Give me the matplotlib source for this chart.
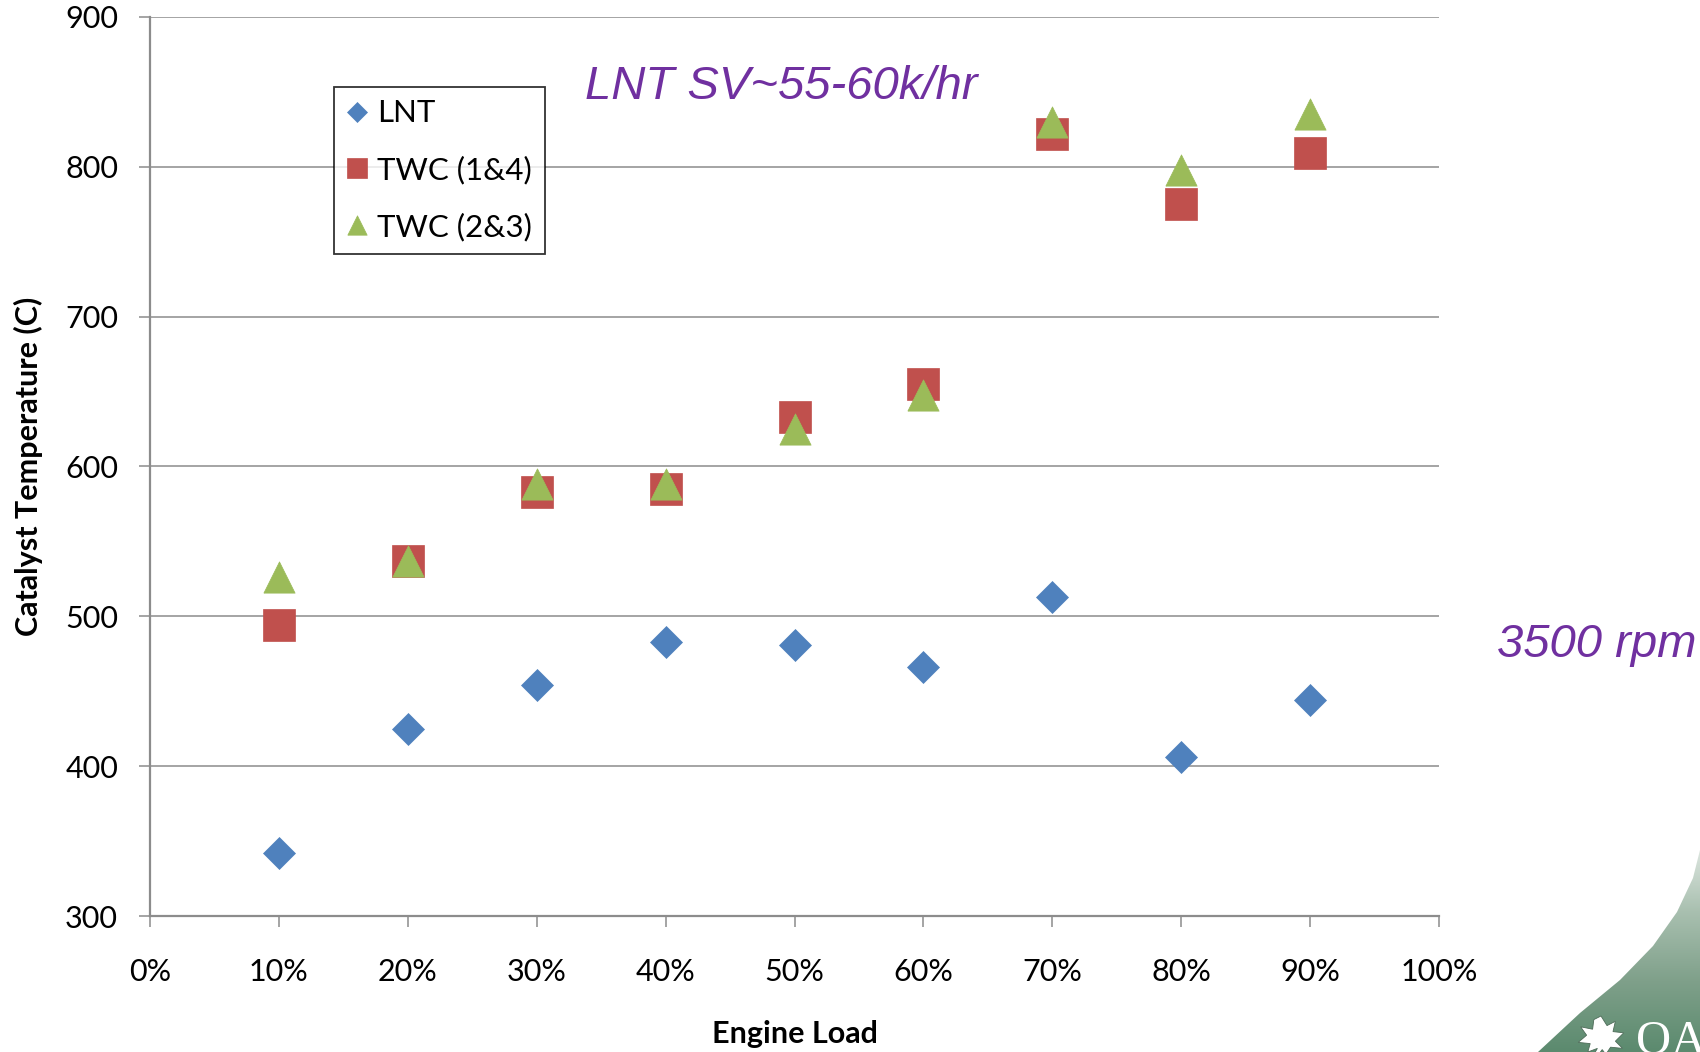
import matplotlib
matplotlib.use("Agg")
import matplotlib.pyplot as plt
import numpy as np
from matplotlib.colors import LinearSegmentedColormap
from matplotlib.patches import Polygon
from matplotlib.ticker import FuncFormatter, MultipleLocator

# data
engine_load = [0.1, 0.2, 0.3, 0.4, 0.5, 0.6, 0.7, 0.8, 0.9]
lnt = [342, 425, 454, 483, 481, 466, 513, 406, 444]
twc_14 = [494, 537, 583, 585, 633, 655, 822, 775, 809]
twc_23 = [526, 537, 588, 588, 625, 648, 830, 798, 835]

series_labels = ["LNT", "TWC (1&4)", "TWC (2&3)"]
y_ticks = [300, 400, 500, 600, 700, 800, 900]

BLUE = "#4F81BD"
RED = "#C0504D"
GREEN = "#9BBB59"
PURPLE = "#7030A0"
GRID = "#8C8C8C"

FONT = ["Lato", "DejaVu Sans"]
W, H = 1700, 1052

fig = plt.figure(figsize=(W / 100, H / 100), dpi=100)

# ---- logo corner (background, pixel coords) ----
bg = fig.add_axes([0, 0, 1, 1], zorder=-1)
bg.set_xlim(0, W)
bg.set_ylim(H, 0)
bg.axis("off")
cmap = LinearSegmentedColormap.from_list("lg", ["#e4ebe6", "#a9c0b0", "#7fa08a", "#5b8a6e"])
grad = np.linspace(0, 1, 256).reshape(-1, 1)
im = bg.imshow(grad, cmap=cmap, extent=(1500, W, H, 840), aspect="auto", zorder=0)
edge = [(W, 840), (W, 850), (1693, 878), (1677, 912), (1653, 946),
        (1620, 980), (1580, 1013), (1538, H), (W, H)]
clip = Polygon(edge, closed=True, transform=bg.transData, facecolor="none", edgecolor="none")
bg.add_patch(clip)
im.set_clip_path(clip)

# rough oak leaf
leaf = np.array([(0, -1), (0.25, -0.6), (0.6, -0.78), (0.5, -0.35), (0.95, -0.3),
                 (0.6, 0.05), (0.9, 0.35), (0.4, 0.3), (0.2, 0.6), (0.05, 0.4),
                 (-0.35, 0.95), (-0.45, 0.85), (-0.15, 0.35), (-0.55, 0.5),
                 (-0.45, 0.15), (-0.95, 0.1), (-0.6, -0.2), (-0.85, -0.55),
                 (-0.35, -0.45), (-0.3, -0.85)])
bg.add_patch(Polygon(leaf * 24 + np.array([1601, 1040]), closed=True,
                     facecolor="white", edgecolor="#4d6b58", lw=0.6, zorder=2))
bg.text(1636, 1054, "OA", color="white", fontsize=35, family="Liberation Serif",
        ha="left", va="baseline", zorder=2)

# ---- main chart ----
ax = fig.add_axes([150 / W, 1 - 916 / H, 1289 / W, 899 / H])

tri = [(-1, -1), (1, -1), (0, 1), (-1, -1)]
ax.plot(engine_load, lnt, ls="none", marker="D", ms=15.8, color=BLUE,
        mec=BLUE, mew=0.5, label=series_labels[0], zorder=3, clip_on=False)
ax.plot(engine_load, twc_14, ls="none", marker="s", ms=23, color=RED,
        mec=RED, mew=0.5, label=series_labels[1], zorder=3, clip_on=False)
ax.plot(engine_load, twc_23, ls="none", marker=tri, ms=22.5, color=GREEN,
        mec=GREEN, mew=0.5, label=series_labels[2], zorder=3, clip_on=False)

ax.set_xlim(0, 1)
ax.set_ylim(300, 900)
ax.xaxis.set_major_locator(MultipleLocator(0.1))
ax.xaxis.set_major_formatter(FuncFormatter(lambda v, p: f"{v * 100:.0f}%"))
ax.set_yticks(y_ticks)

ax.grid(axis="y", color=GRID, lw=1.1, zorder=0)
ax.set_axisbelow(True)
for s in ["top", "right"]:
    ax.spines[s].set_visible(False)
for s in ["left", "bottom"]:
    ax.spines[s].set_color(GRID)
    ax.spines[s].set_linewidth(1.6)

ax.tick_params(axis="both", direction="out", length=8, width=1.1, color=GRID,
               labelsize=22, labelcolor="black")
ax.tick_params(axis="y", pad=15)
ax.tick_params(axis="x", pad=22)
for lbl in ax.get_xticklabels() + ax.get_yticklabels():
    lbl.set_family(FONT)

ax.set_xlabel("Engine Load", fontsize=22, fontweight="bold", family=FONT)
ax.set_ylabel("Catalyst Temperature (C)", fontsize=22, fontweight="bold", family=FONT)
ax.xaxis.set_label_coords(0.5, -0.116)
ax.yaxis.set_label_coords(-0.083, 0.5)

leg = ax.legend(loc="upper left", bbox_to_anchor=(334 / W, 1 - 87 / H),
                bbox_transform=fig.transFigure, prop={"family": FONT, "size": 22.5},
                frameon=True, fancybox=False, borderaxespad=0, borderpad=0.4,
                handlelength=0.7, handletextpad=0.28, labelspacing=0.9,
                markerscale=0.62)
leg.get_frame().set_edgecolor("black")
leg.get_frame().set_linewidth(1.3)

# ---- slide annotations ----
fig.text(585 / W, 1 - 99 / H, "LNT SV~55-60k/hr", color=PURPLE, fontsize=34,
         style="italic", family="Liberation Sans", ha="left", va="baseline")
fig.text(1497 / W, 1 - 657 / H, "3500 rpm", color=PURPLE, fontsize=34,
         style="italic", family="Liberation Sans", ha="left", va="baseline")

fig.savefig("out.png", dpi=100)
